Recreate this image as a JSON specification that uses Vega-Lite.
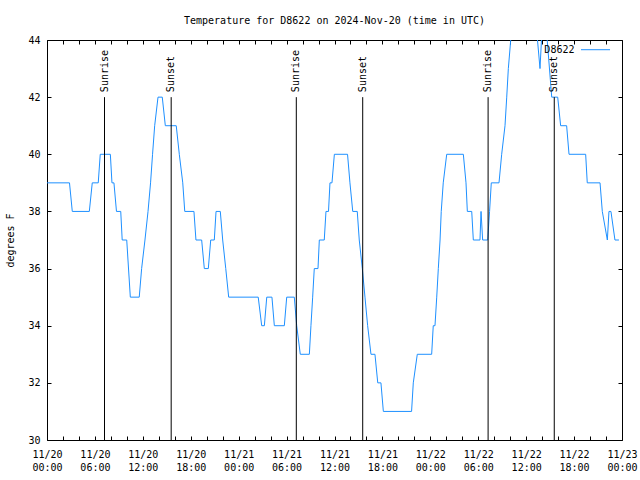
{
  "$schema": "https://vega.github.io/schema/vega-lite/v6.json",
  "width": 575,
  "height": 400,
  "autosize": {"type": "none"},
  "padding": {"left": 47, "top": 40, "right": 18, "bottom": 40},
  "background": "white",
  "title": {"text": "Temperature for D8622 on 2024-Nov-20 (time in UTC)", "font": "DejaVu Sans Mono", "fontSize": 10, "fontWeight": "normal", "color": "black", "offset": 9, "anchor": "middle", "frame": "group"},
  "config": {
    "font": "DejaVu Sans Mono",
    "view": {"stroke": "black", "strokeWidth": 1},
    "axis": {"domain": false, "grid": false, "tickColor": "black", "tickSize": 4, "offset": -4, "tickWidth": 1, "labelFont": "DejaVu Sans Mono", "labelFontSize": 10, "labelColor": "black", "titleFont": "DejaVu Sans Mono", "titleFontSize": 10, "titleFontWeight": "normal", "titleColor": "black"}
  },
  "datasets": {
    "temp": [
      {"t": "2024-11-20T00:00:00Z", "v": 39},
      {"t": "2024-11-20T02:49:00Z", "v": 39},
      {"t": "2024-11-20T03:10:00Z", "v": 38},
      {"t": "2024-11-20T05:18:00Z", "v": 38},
      {"t": "2024-11-20T05:40:00Z", "v": 39},
      {"t": "2024-11-20T06:25:00Z", "v": 39},
      {"t": "2024-11-20T06:40:00Z", "v": 40},
      {"t": "2024-11-20T07:56:00Z", "v": 40},
      {"t": "2024-11-20T08:08:00Z", "v": 39},
      {"t": "2024-11-20T08:23:00Z", "v": 39},
      {"t": "2024-11-20T08:42:00Z", "v": 38},
      {"t": "2024-11-20T09:14:00Z", "v": 38},
      {"t": "2024-11-20T09:25:00Z", "v": 37},
      {"t": "2024-11-20T09:59:00Z", "v": 37},
      {"t": "2024-11-20T10:26:00Z", "v": 35},
      {"t": "2024-11-20T11:33:00Z", "v": 35},
      {"t": "2024-11-20T11:51:00Z", "v": 36},
      {"t": "2024-11-20T12:16:00Z", "v": 37},
      {"t": "2024-11-20T12:39:00Z", "v": 38},
      {"t": "2024-11-20T12:58:00Z", "v": 39},
      {"t": "2024-11-20T13:13:00Z", "v": 40},
      {"t": "2024-11-20T13:29:00Z", "v": 41},
      {"t": "2024-11-20T13:54:00Z", "v": 42},
      {"t": "2024-11-20T14:26:00Z", "v": 42},
      {"t": "2024-11-20T14:49:00Z", "v": 41},
      {"t": "2024-11-20T16:11:00Z", "v": 41},
      {"t": "2024-11-20T16:34:00Z", "v": 40},
      {"t": "2024-11-20T17:00:00Z", "v": 39},
      {"t": "2024-11-20T17:15:00Z", "v": 38},
      {"t": "2024-11-20T18:24:00Z", "v": 38},
      {"t": "2024-11-20T18:39:00Z", "v": 37},
      {"t": "2024-11-20T19:22:00Z", "v": 37},
      {"t": "2024-11-20T19:42:00Z", "v": 36},
      {"t": "2024-11-20T20:12:00Z", "v": 36},
      {"t": "2024-11-20T20:30:00Z", "v": 37},
      {"t": "2024-11-20T20:57:00Z", "v": 37},
      {"t": "2024-11-20T21:10:00Z", "v": 38},
      {"t": "2024-11-20T21:42:00Z", "v": 38},
      {"t": "2024-11-20T22:00:00Z", "v": 37},
      {"t": "2024-11-20T22:23:00Z", "v": 36},
      {"t": "2024-11-20T22:45:00Z", "v": 35},
      {"t": "2024-11-21T02:27:00Z", "v": 35},
      {"t": "2024-11-21T02:53:00Z", "v": 34},
      {"t": "2024-11-21T03:13:00Z", "v": 34},
      {"t": "2024-11-21T03:31:00Z", "v": 35},
      {"t": "2024-11-21T04:10:00Z", "v": 35},
      {"t": "2024-11-21T04:28:00Z", "v": 34},
      {"t": "2024-11-21T05:43:00Z", "v": 34},
      {"t": "2024-11-21T06:01:00Z", "v": 35},
      {"t": "2024-11-21T06:58:00Z", "v": 35},
      {"t": "2024-11-21T07:16:00Z", "v": 34},
      {"t": "2024-11-21T07:43:00Z", "v": 33},
      {"t": "2024-11-21T08:51:00Z", "v": 33},
      {"t": "2024-11-21T09:03:00Z", "v": 34},
      {"t": "2024-11-21T09:16:00Z", "v": 35},
      {"t": "2024-11-21T09:28:00Z", "v": 36},
      {"t": "2024-11-21T09:56:00Z", "v": 36},
      {"t": "2024-11-21T10:06:00Z", "v": 37},
      {"t": "2024-11-21T10:43:00Z", "v": 37},
      {"t": "2024-11-21T10:56:00Z", "v": 38},
      {"t": "2024-11-21T11:15:00Z", "v": 38},
      {"t": "2024-11-21T11:26:00Z", "v": 39},
      {"t": "2024-11-21T11:41:00Z", "v": 39},
      {"t": "2024-11-21T11:59:00Z", "v": 40},
      {"t": "2024-11-21T13:38:00Z", "v": 40},
      {"t": "2024-11-21T13:56:00Z", "v": 39},
      {"t": "2024-11-21T14:17:00Z", "v": 38},
      {"t": "2024-11-21T14:51:00Z", "v": 38},
      {"t": "2024-11-21T15:06:00Z", "v": 37},
      {"t": "2024-11-21T15:29:00Z", "v": 36},
      {"t": "2024-11-21T15:49:00Z", "v": 35},
      {"t": "2024-11-21T16:09:00Z", "v": 34},
      {"t": "2024-11-21T16:34:00Z", "v": 33},
      {"t": "2024-11-21T17:04:00Z", "v": 33},
      {"t": "2024-11-21T17:25:00Z", "v": 32},
      {"t": "2024-11-21T17:49:00Z", "v": 32},
      {"t": "2024-11-21T18:07:00Z", "v": 31},
      {"t": "2024-11-21T21:39:00Z", "v": 31},
      {"t": "2024-11-21T21:52:00Z", "v": 32},
      {"t": "2024-11-21T22:22:00Z", "v": 33},
      {"t": "2024-11-22T00:10:00Z", "v": 33},
      {"t": "2024-11-22T00:22:00Z", "v": 34},
      {"t": "2024-11-22T00:35:00Z", "v": 34},
      {"t": "2024-11-22T00:48:00Z", "v": 35},
      {"t": "2024-11-22T01:00:00Z", "v": 36},
      {"t": "2024-11-22T01:13:00Z", "v": 37},
      {"t": "2024-11-22T01:22:00Z", "v": 38},
      {"t": "2024-11-22T01:37:00Z", "v": 39},
      {"t": "2024-11-22T02:03:00Z", "v": 40},
      {"t": "2024-11-22T04:08:00Z", "v": 40},
      {"t": "2024-11-22T04:28:00Z", "v": 39},
      {"t": "2024-11-22T04:38:00Z", "v": 38},
      {"t": "2024-11-22T05:11:00Z", "v": 38},
      {"t": "2024-11-22T05:23:00Z", "v": 37},
      {"t": "2024-11-22T06:13:00Z", "v": 37},
      {"t": "2024-11-22T06:21:00Z", "v": 38},
      {"t": "2024-11-22T06:33:00Z", "v": 37},
      {"t": "2024-11-22T07:11:00Z", "v": 37},
      {"t": "2024-11-22T07:25:00Z", "v": 38},
      {"t": "2024-11-22T07:38:00Z", "v": 39},
      {"t": "2024-11-22T08:36:00Z", "v": 39},
      {"t": "2024-11-22T08:56:00Z", "v": 40},
      {"t": "2024-11-22T09:21:00Z", "v": 41},
      {"t": "2024-11-22T09:34:00Z", "v": 42},
      {"t": "2024-11-22T09:46:00Z", "v": 43},
      {"t": "2024-11-22T10:04:00Z", "v": 44},
      {"t": "2024-11-22T10:21:00Z", "v": 45},
      {"t": "2024-11-22T10:36:00Z", "v": 46},
      {"t": "2024-11-22T12:51:00Z", "v": 46},
      {"t": "2024-11-22T13:06:00Z", "v": 45},
      {"t": "2024-11-22T13:44:00Z", "v": 43},
      {"t": "2024-11-22T14:06:00Z", "v": 45},
      {"t": "2024-11-22T14:21:00Z", "v": 45},
      {"t": "2024-11-22T15:12:00Z", "v": 42},
      {"t": "2024-11-22T15:57:00Z", "v": 42},
      {"t": "2024-11-22T16:19:00Z", "v": 41},
      {"t": "2024-11-22T17:04:00Z", "v": 41},
      {"t": "2024-11-22T17:22:00Z", "v": 40},
      {"t": "2024-11-22T19:27:00Z", "v": 40},
      {"t": "2024-11-22T19:39:00Z", "v": 39},
      {"t": "2024-11-22T21:15:00Z", "v": 39},
      {"t": "2024-11-22T21:32:00Z", "v": 38},
      {"t": "2024-11-22T22:10:00Z", "v": 37},
      {"t": "2024-11-22T22:22:00Z", "v": 38},
      {"t": "2024-11-22T22:37:00Z", "v": 38},
      {"t": "2024-11-22T23:07:00Z", "v": 37},
      {"t": "2024-11-22T23:37:00Z", "v": 37}
    ],
    "sun": [
      {"t": "2024-11-20T07:12:00Z", "lo": 30, "hi": 42, "label": "Sunrise"},
      {"t": "2024-11-20T15:33:00Z", "lo": 30, "hi": 42, "label": "Sunset"},
      {"t": "2024-11-21T07:13:00Z", "lo": 30, "hi": 42, "label": "Sunrise"},
      {"t": "2024-11-21T15:32:00Z", "lo": 30, "hi": 42, "label": "Sunset"},
      {"t": "2024-11-22T07:14:00Z", "lo": 30, "hi": 42, "label": "Sunrise"},
      {"t": "2024-11-22T15:31:00Z", "lo": 30, "hi": 42, "label": "Sunset"}
    ],
    "key": [
      {"t": "2024-11-22T18:03:00Z", "t2": "2024-11-22T18:52:00Z", "t3": "2024-11-22T22:30:00Z", "v": 43.66, "name": "D8622"}
    ]
  },
  "layer": [
    {
      "data": {"name": "temp"},
      "mark": {"type": "line", "color": "#1e90ff", "strokeWidth": 1, "clip": true},
      "encoding": {
        "x": {"field": "t", "type": "temporal", "scale": {"type": "utc", "domain": [1732060800000, 1732320000000], "nice": false}, "axis": {"orient": "bottom", "title": null, "values": [1732060800000, 1732068000000, 1732075200000, 1732082400000, 1732089600000, 1732096800000, 1732104000000, 1732111200000, 1732118400000, 1732125600000, 1732132800000, 1732140000000, 1732147200000, 1732154400000, 1732161600000, 1732168800000, 1732176000000, 1732183200000, 1732190400000, 1732197600000, 1732204800000, 1732212000000, 1732219200000, 1732226400000, 1732233600000, 1732240800000, 1732248000000, 1732255200000, 1732262400000, 1732269600000, 1732276800000, 1732284000000, 1732291200000, 1732298400000, 1732305600000, 1732312800000, 1732320000000], "labelExpr": "utchours(datum.value) % 6 == 0 ? [utcFormat(datum.value, '%m/%d'), utcFormat(datum.value, '%H:%M')] : ''", "labelOverlap": false, "labelFlush": false, "labelPadding": 9, "labelLineHeight": 13}},
        "y": {"field": "v", "type": "quantitative", "scale": {"domain": [30, 44], "nice": false}, "axis": {"orient": "left", "title": "degrees F", "values": [30, 32, 34, 36, 38, 40, 42, 44], "labelPadding": 7, "titlePadding": 12}}
      }
    },
    {
      "data": {"name": "temp"},
      "mark": {"type": "line", "opacity": 0, "clip": true},
      "encoding": {
        "x": {"field": "t", "type": "temporal", "axis": {"orient": "top", "title": null, "labels": false, "values": [1732060800000, 1732068000000, 1732075200000, 1732082400000, 1732089600000, 1732096800000, 1732104000000, 1732111200000, 1732118400000, 1732125600000, 1732132800000, 1732140000000, 1732147200000, 1732154400000, 1732161600000, 1732168800000, 1732176000000, 1732183200000, 1732190400000, 1732197600000, 1732204800000, 1732212000000, 1732219200000, 1732226400000, 1732233600000, 1732240800000, 1732248000000, 1732255200000, 1732262400000, 1732269600000, 1732276800000, 1732284000000, 1732291200000, 1732298400000, 1732305600000, 1732312800000, 1732320000000]}},
        "y": {"field": "v", "type": "quantitative", "axis": {"orient": "right", "title": null, "labels": false, "values": [30, 32, 34, 36, 38, 40, 42, 44]}}
      }
    },
    {
      "data": {"name": "sun"},
      "mark": {"type": "rule", "color": "black", "strokeWidth": 1},
      "encoding": {
        "x": {"field": "t", "type": "temporal", "axis": null},
        "y": {"field": "lo", "type": "quantitative", "axis": null},
        "y2": {"field": "hi"}
      }
    },
    {
      "data": {"name": "sun"},
      "mark": {"type": "text", "angle": 270, "align": "left", "baseline": "middle", "dx": 5, "fontSize": 10, "color": "black", "font": "DejaVu Sans Mono"},
      "encoding": {
        "x": {"field": "t", "type": "temporal", "axis": null},
        "y": {"field": "hi", "type": "quantitative", "axis": null},
        "text": {"field": "label"}
      }
    },
    {
      "data": {"name": "key"},
      "mark": {"type": "text", "align": "right", "baseline": "middle", "fontSize": 10, "color": "black", "font": "DejaVu Sans Mono"},
      "encoding": {
        "x": {"field": "t", "type": "temporal", "axis": null},
        "y": {"field": "v", "type": "quantitative", "axis": null},
        "text": {"field": "name"}
      }
    },
    {
      "data": {"name": "key"},
      "mark": {"type": "rule", "color": "#1e90ff", "strokeWidth": 1},
      "encoding": {
        "x": {"field": "t2", "type": "temporal", "axis": null},
        "x2": {"field": "t3"},
        "y": {"field": "v", "type": "quantitative", "axis": null}
      }
    }
  ],
  "resolve": {"axis": {"x": "independent", "y": "independent"}}
}
